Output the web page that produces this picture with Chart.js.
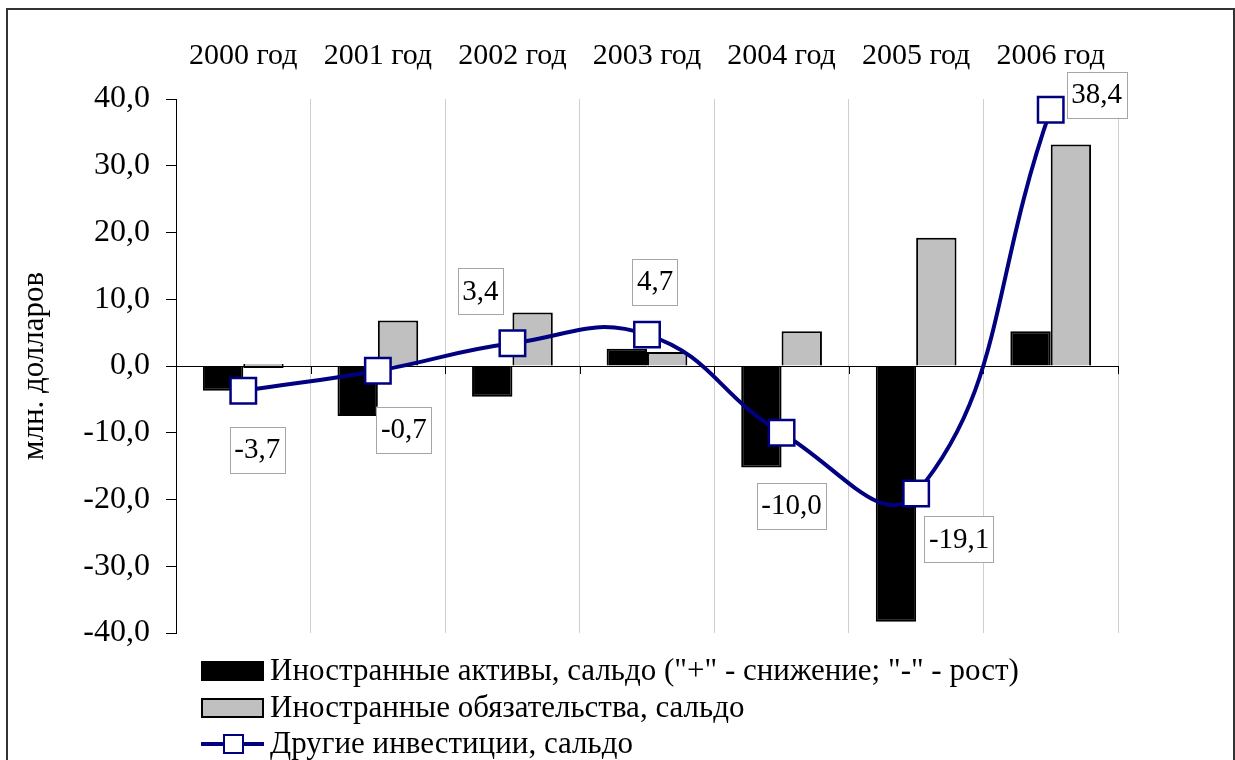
<!DOCTYPE html>
<html>
<head>
<meta charset="utf-8">
<script src="https://cdn.jsdelivr.net/npm/chart.js@4.4.1/dist/chart.umd.min.js"></script>
<style>
  body { margin: 0; background: #fff; }
  canvas { display: block; }
</style>
</head>
<body>
<canvas id="chart" width="1235" height="760"></canvas>
<script>
// data
const years = ['2000 год', '2001 год', '2002 год', '2003 год', '2004 год', '2005 год', '2006 год'];
const assets = [-3.7, -7.5, -4.6, 2.6, -15.2, -38.3, 5.2];
const liabilities = [0.0, 6.8, 8.0, 2.1, 5.2, 19.2, 33.2];
const otherInvest = [-3.7, -0.7, 3.4, 4.7, -10.0, -19.1, 38.4];
const seriesNames = [
    'Иностранные активы, сальдо ("+" - снижение; "-" - рост)',
    'Иностранные обязательства, сальдо',
    'Другие инвестиции, сальдо'
];
const yTitle = 'млн. долларов';

// where the value boxes sit, relative to their point (px)
const labelShift = [[14, 59], [26, 59], [-32, -52], [8, -53], [10, 73], [43, 46], [46, -15]];

const serif = '"Liberation Serif", "Times New Roman", serif';
const comma = v => v.toFixed(1).replace('.', ',');

const frame = {
    id: 'frame',
    beforeDraw(chart) {
        const ctx = chart.ctx;
        ctx.save();
        ctx.strokeStyle = '#333';
        ctx.lineWidth = 2;
        ctx.strokeRect(7, 9, 1227, 800);
        ctx.restore();
    },
    beforeDatasetsDraw(chart) {
        // small ticks hanging under the zero line
        const ctx = chart.ctx, x = chart.scales.x, y = chart.scales.y;
        const y0 = y.getPixelForValue(0);
        const step = (x.right - x.left) / years.length;
        ctx.save();
        ctx.strokeStyle = '#000';
        ctx.lineWidth = 1;
        for (let i = 0; i <= years.length; i++) {
            const px = Math.round(x.left + i * step) + 0.5;
            ctx.beginPath();
            ctx.moveTo(px, y0);
            ctx.lineTo(px, y0 + 8);
            ctx.stroke();
        }
        ctx.restore();
    }
};

const valueBoxes = {
    id: 'valueBoxes',
    afterDatasetsDraw(chart) {
        const ctx = chart.ctx;
        const meta = chart.getDatasetMeta(2);
        ctx.save();
        ctx.font = '29px ' + serif;
        ctx.textAlign = 'center';
        ctx.textBaseline = 'middle';
        meta.data.forEach((pt, i) => {
            const txt = comma(otherInvest[i]);
            const cx = pt.x + labelShift[i][0], cy = pt.y + labelShift[i][1];
            const w = ctx.measureText(txt).width + 9, h = 46;
            ctx.fillStyle = '#fff';
            ctx.fillRect(cx - w / 2, cy - h / 2, w, h);
            ctx.strokeStyle = '#a6a6a6';
            ctx.lineWidth = 1;
            ctx.strokeRect(Math.round(cx - w / 2) + 0.5, Math.round(cy - h / 2) + 0.5, Math.round(w), h);
            ctx.fillStyle = '#000';
            ctx.fillText(txt, cx, cy + 1);
        });
        ctx.restore();
    }
};

const legendRows = {
    id: 'legendRows',
    afterDraw(chart) {
        const ctx = chart.ctx;
        const x0 = 201, rowY = [671, 708, 744];
        ctx.save();
        ctx.font = '31px ' + serif;
        ctx.textBaseline = 'middle';
        chart.data.datasets.forEach((ds, i) => {
            const y = rowY[i];
            if (ds.type === 'line') {
                ctx.strokeStyle = ds.borderColor;
                ctx.lineWidth = 4;
                ctx.beginPath();
                ctx.moveTo(x0, y);
                ctx.lineTo(x0 + 63, y);
                ctx.stroke();
                ctx.fillStyle = '#fff';
                ctx.lineWidth = 2;
                ctx.fillRect(x0 + 23, y - 9, 19, 18);
                ctx.strokeRect(x0 + 23, y - 9, 19, 18);
            } else {
                ctx.fillStyle = ds.backgroundColor;
                ctx.fillRect(x0, y - 10, 63, 20);
                ctx.strokeStyle = '#000';
                ctx.lineWidth = 2;
                ctx.strokeRect(x0 + 1, y - 9, 61, 18);
            }
            ctx.fillStyle = '#000';
            ctx.fillText(ds.label, x0 + 69, y + 1);
        });
        ctx.restore();
    }
};

new Chart(document.getElementById('chart'), {
    data: {
        labels: years,
        datasets: [
            {
                type: 'bar',
                label: seriesNames[0],
                data: assets,
                backgroundColor: '#000000',
                borderColor: '#000000',
                borderWidth: 2,
                order: 1
            },
            {
                type: 'bar',
                label: seriesNames[1],
                data: liabilities,
                backgroundColor: '#c0c0c0',
                borderColor: '#000000',
                borderWidth: 2,
                minBarLength: 4,
                order: 2
            },
            {
                type: 'line',
                label: seriesNames[2],
                data: otherInvest,
                borderColor: '#000080',
                borderWidth: 4,
                tension: 0.45,
                clip: false,
                pointStyle: 'rect',
                pointRadius: 18,
                pointBorderWidth: 2.5,
                pointBackgroundColor: '#ffffff',
                pointBorderColor: '#000080',
                order: 0
            }
        ]
    },
    options: {
        responsive: false,
        animation: false,
        categoryPercentage: 0.6,
        barPercentage: 1.0,
        layout: { padding: { left: 8, right: 117, top: 8, bottom: 127 } },
        plugins: {
            legend: { display: false },
            tooltip: { enabled: false }
        },
        scales: {
            x: {
                position: 'top',
                offset: true,
                grid: { offset: true, color: '#cfcfcf', lineWidth: 1, drawTicks: false },
                border: { display: false },
                ticks: { color: '#000', font: { family: serif, size: 30 }, padding: 25 },
                afterFit(scale) { scale.height = 91; }
            },
            y: {
                min: -40,
                max: 40,
                ticks: {
                    stepSize: 10,
                    color: '#000',
                    font: { family: serif, size: 32 },
                    padding: 16,
                    callback: v => comma(v)
                },
                grid: {
                    color: c => (c.tick && c.tick.value === 0 ? '#000' : 'rgba(0,0,0,0)'),
                    tickColor: '#000',
                    tickLength: 10,
                    lineWidth: 1
                },
                border: { display: true, color: '#000', width: 1 },
                title: {
                    display: true,
                    text: yTitle,
                    color: '#000',
                    font: { family: serif, size: 31 },
                    padding: { top: 8, bottom: 0 }
                },
                afterFit(scale) { scale.width = 168; }
            }
        }
    },
    plugins: [frame, valueBoxes, legendRows]
});
</script>
</body>
</html>
